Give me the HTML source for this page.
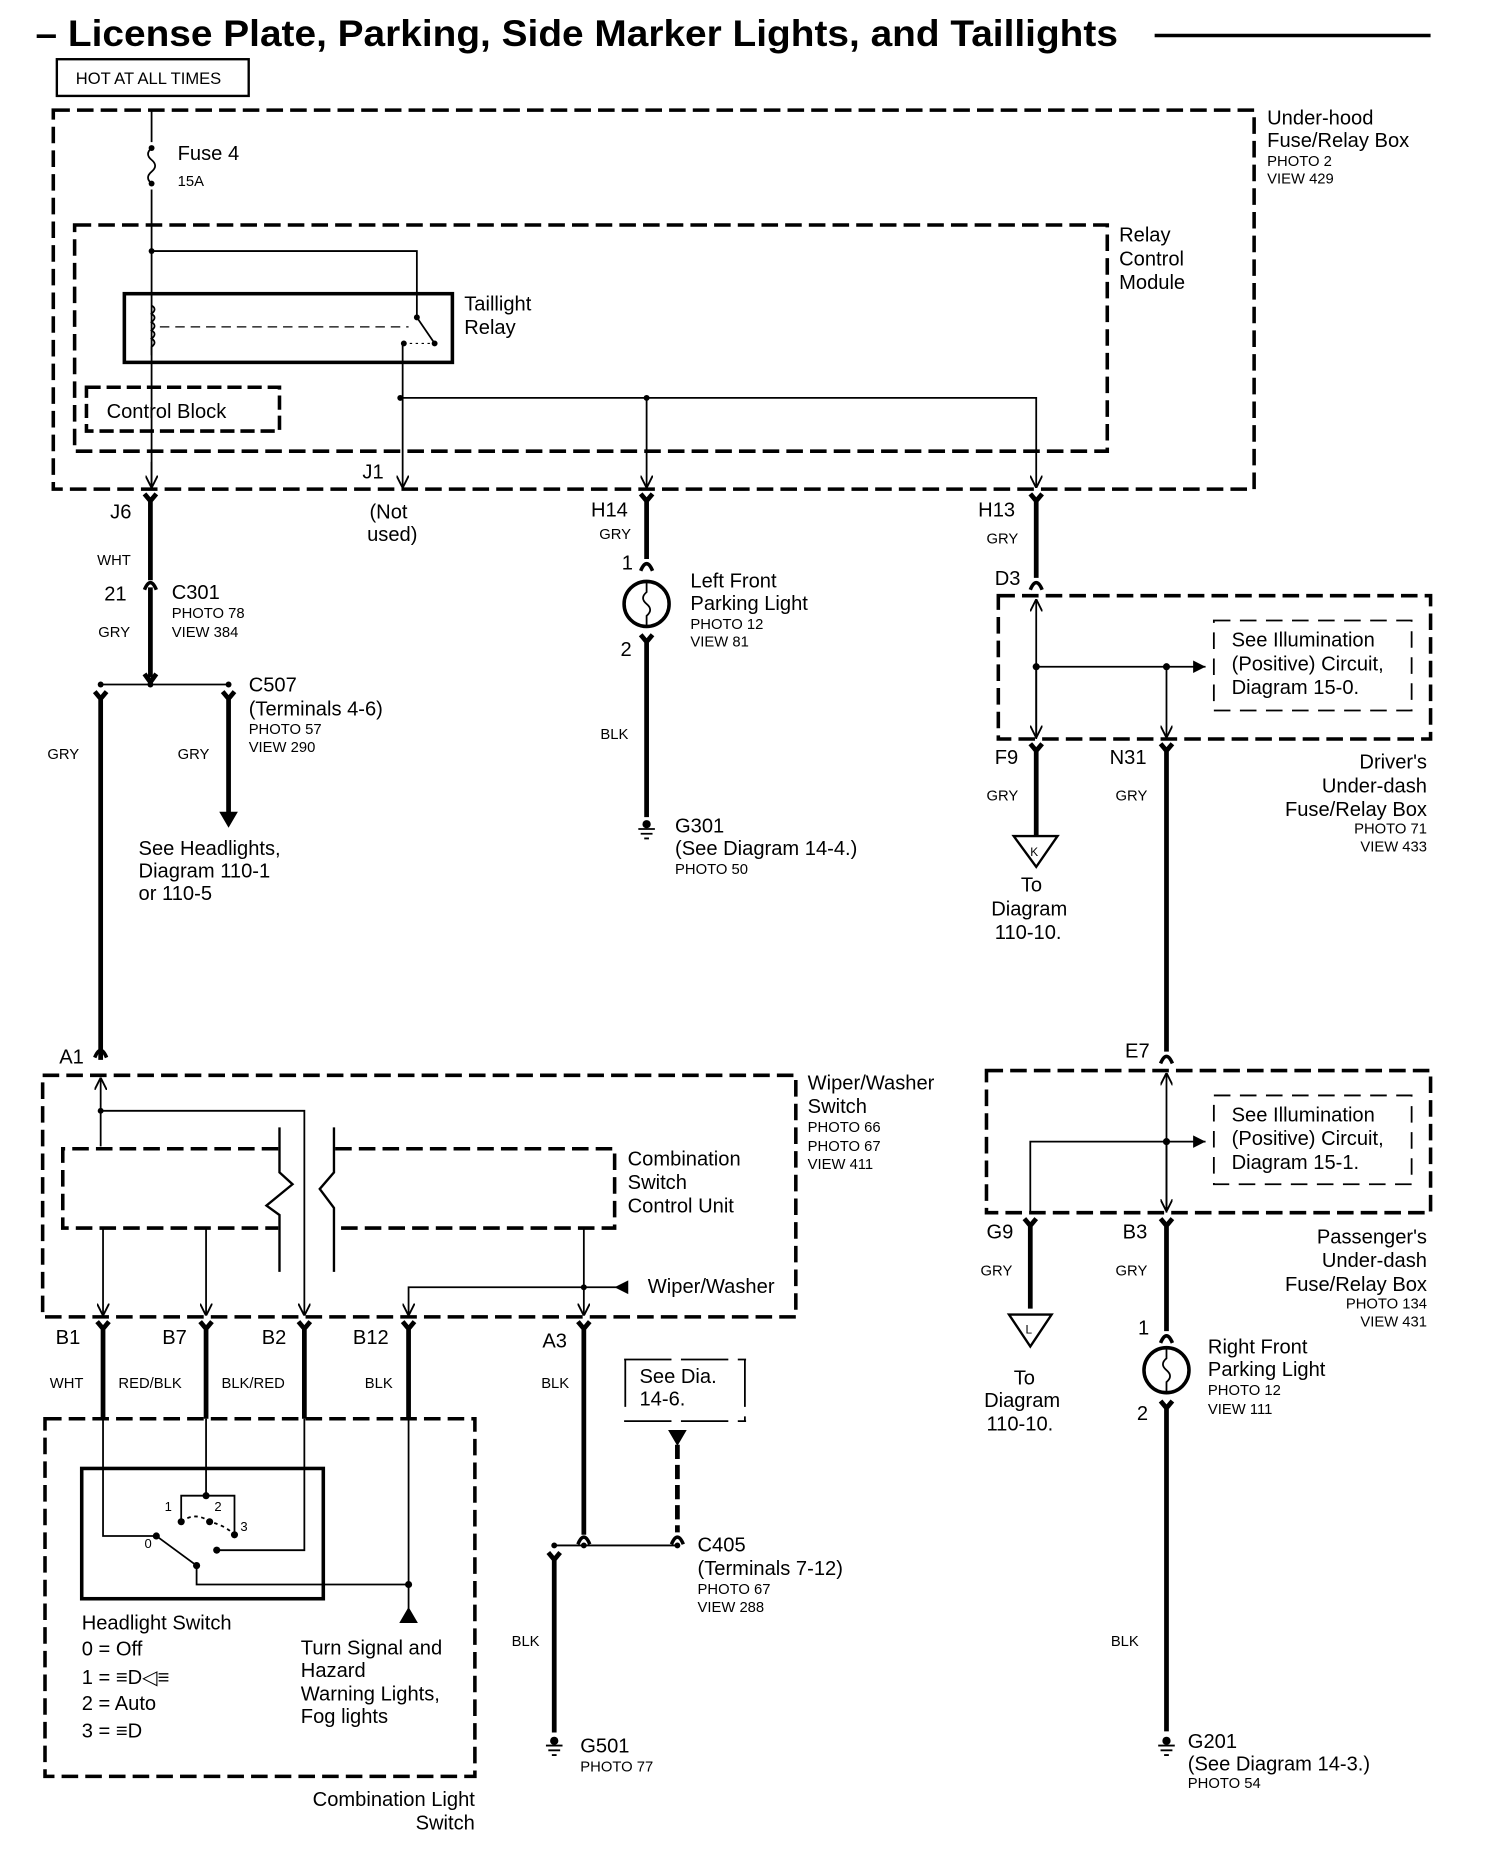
<!DOCTYPE html>
<html><head><meta charset="utf-8"><style>
html,body{margin:0;padding:0;background:#fff;}
svg{display:block;}
text{font-family:"Liberation Sans",Arial,sans-serif;fill:#000;}
.l{font-size:17px;}
.s{font-size:12.5px;}
.r{text-anchor:end;}
</style></head><body>
<svg width="1504" height="1864" viewBox="0 0 1270 1574" xmlns="http://www.w3.org/2000/svg">
<defs>
<marker id="ah" viewBox="0 0 10 10" refX="10" refY="5" markerWidth="7" markerHeight="7" orient="auto"><path d="M0,0 L10,5 L0,10" fill="none" stroke="#000" stroke-width="1.5"/></marker>
<marker id="af" viewBox="0 0 10 10" refX="10" refY="5" markerWidth="7" markerHeight="7" orient="auto"><path d="M0,0 L10,5 L0,10z" fill="#000"/></marker>
</defs>
<g stroke="#000" fill="none">
<!-- title -->
<line x1="975" y1="30" x2="1208" y2="30" stroke-width="3"/>
<rect x="48" y="50" width="162" height="31" stroke-width="2"/>
<!-- underhood box -->
<rect x="45" y="93" width="1014" height="320" stroke-width="3" stroke-dasharray="14,6"/>
<rect x="63" y="190" width="872" height="191" stroke-width="3" stroke-dasharray="14,6"/>
<rect x="73" y="327" width="163" height="37" stroke-width="3" stroke-dasharray="12,5"/>
<rect x="105" y="248" width="277" height="58" stroke-width="3"/>
<path d="M128,93 V120 M128,160 V413" stroke-width="1.5"/>
<path d="M128,125 q-6,5 0,10 q6,5 0,10 q-6,5 0,10" stroke-width="1.5"/>
<path d="M128,258 q5,3 0,7 q5,3 0,7 q5,3 0,7 q5,3 0,7 q5,3 0,7 V300" stroke-width="1.5"/>
<line x1="135" y1="276" x2="345" y2="276" stroke-width="1" stroke-dasharray="8,5"/>
<path d="M128,212 H352 V268 L367,290" stroke-width="1.5"/>
<path d="M341,290 L367,290" stroke-width="1" stroke-dasharray="2,3"/>
<path d="M340,290 V412" stroke-width="1.5" marker-end="url(#ah)"/>
<path d="M338,336 H875 V412" stroke-width="1.5" marker-end="url(#ah)"/>
<path d="M546,336 V412" stroke-width="1.5" marker-end="url(#ah)"/>
<path d="M128,390 V412" stroke-width="1.5" marker-end="url(#ah)"/>
<!-- J6 / C301 -->
<path d="M122,417 L127,423 L132,417 M127,423 V490" stroke-width="4"/>
<path d="M122,498 Q127,486 132,498" stroke-width="3"/>
<path d="M127,496 V572 M122,569 L127,576 L132,569" stroke-width="4"/>
<path d="M85,578 H193" stroke-width="1.5"/>
<path d="M80,584 L85,590 L90,584 M85,590 V895 M188,584 L193,590 L198,584 M193,590 V688" stroke-width="4"/>
<path d="M186,686 L200,686 L193,698z" fill="#000" stroke-width="1"/>
<!-- H14 -->
<path d="M541,417 L546,423 L551,417 M546,423 V472" stroke-width="4"/>
<path d="M541,482 Q546,470 551,482" stroke-width="3"/>
<circle cx="546" cy="510" r="19" stroke-width="3"/>
<path d="M546,491 V500 q-6,5 0,10 q6,5 0,10 V529" stroke-width="1.5"/>
<path d="M541,536 L546,542 L551,536 M546,542 V690" stroke-width="4"/>
<!-- H13 -->
<path d="M870,417 L875,423 L880,417 M875,423 V488" stroke-width="4"/>
<path d="M870,498 Q875,486 880,498" stroke-width="3"/>
<rect x="843" y="503" width="365" height="121" stroke-width="3" stroke-dasharray="14,6"/>
<rect x="1025" y="524" width="167" height="76" stroke-width="1.5" stroke-dasharray="14,8"/>
<path d="M875,624 V506" stroke-width="1.5" marker-end="url(#ah)"/>
<path d="M875,563 V623" stroke-width="1.5" marker-end="url(#ah)"/>
<path d="M875,563 H1018" stroke-width="1.5" marker-end="url(#af)"/>
<path d="M985,563 V623" stroke-width="1.5" marker-end="url(#ah)"/>
<path d="M870,628 L875,634 L880,628 M875,634 V706" stroke-width="4"/>
<path d="M980,628 L985,634 L990,628 M985,634 V888" stroke-width="4"/>
<path d="M856,706 L893,706 L875,732z" stroke-width="2"/>
<!-- E7 passenger -->
<path d="M980,898 Q985,886 990,898" stroke-width="3"/>
<rect x="833" y="904" width="375" height="120" stroke-width="3" stroke-dasharray="14,6"/>
<rect x="1025" y="925" width="167" height="75" stroke-width="1.5" stroke-dasharray="14,8"/>
<path d="M985,1024 V906" stroke-width="1.5" marker-end="url(#ah)"/>
<path d="M985,964 V1023" stroke-width="1.5" marker-end="url(#ah)"/>
<path d="M870,1023 V964 H1018" stroke-width="1.5" marker-end="url(#af)"/>
<path d="M865,1029 L870,1035 L875,1029 M870,1035 V1105" stroke-width="4"/>
<path d="M980,1029 L985,1035 L990,1029 M985,1035 V1124" stroke-width="4"/>
<path d="M852,1110 L888,1110 L870,1137z" stroke-width="2"/>
<path d="M980,1134 Q985,1122 990,1134" stroke-width="3"/>
<circle cx="985" cy="1157" r="19" stroke-width="3"/>
<path d="M985,1138 V1147 q-6,5 0,10 q6,5 0,10 V1176" stroke-width="1.5"/>
<path d="M980,1183 L985,1189 L990,1183 M985,1189 V1462" stroke-width="4"/>
<!-- wiper washer switch -->
<path d="M80,893 Q85,881 90,893" stroke-width="3"/>
<rect x="36" y="908" width="636" height="204" stroke-width="3" stroke-dasharray="14,6"/>
<path d="M85,968 V910" stroke-width="1.5" marker-end="url(#ah)"/>
<path d="M85,938 H257 V1111" stroke-width="1.5" marker-end="url(#ah)"/>
<path d="M235,970 H53 V1037 H235" stroke-width="3" stroke-dasharray="14,6"/>
<path d="M283,970 H519 V1037 H283" stroke-width="3" stroke-dasharray="14,6"/>
<path d="M236,952 V990 L247,1000 L225,1018 L236,1026 V1074" stroke-width="2"/>
<path d="M282,952 V990 L270,1004 L282,1020 V1074" stroke-width="2"/>
<path d="M87,1037 V1111" stroke-width="1.5" marker-end="url(#ah)"/>
<path d="M174,1037 V1111" stroke-width="1.5" marker-end="url(#ah)"/>
<path d="M493,1037 V1111" stroke-width="1.5" marker-end="url(#ah)"/>
<path d="M528,1087 H345 V1111" stroke-width="1.5" marker-end="url(#ah)"/>
<path d="M520,1087 L530,1082 L530,1092z" fill="#000" stroke-width="1"/>
<path d="M82,1116 L87,1122 L92,1116 M87,1122 V1198 M169,1116 L174,1122 L179,1116 M174,1122 V1198 M252,1116 L257,1122 L262,1116 M257,1122 V1198 M340,1116 L345,1122 L350,1116 M345,1122 V1198 M488,1116 L493,1122 L498,1116 M493,1122 V1296" stroke-width="4"/>
<!-- combination light switch -->
<rect x="38" y="1198" width="363" height="302" stroke-width="3" stroke-dasharray="14,6"/>
<rect x="69" y="1240" width="204" height="110" stroke-width="3"/>
<path d="M87,1198 V1297 H132" stroke-width="1.5"/>
<path d="M174,1198 V1263 M153,1285 V1263 H198 V1296" stroke-width="1.5"/>
<path d="M153,1285 Q165,1276 177,1285 Q190,1288 198,1296" stroke-width="1.5" stroke-dasharray="3,3"/>
<path d="M132,1297 L166,1322 V1338 H345" stroke-width="1.5"/>
<path d="M183,1309 H257 V1198" stroke-width="1.5"/>
<path d="M345,1198 V1360" stroke-width="1.5"/>
<path d="M338,1370 L352,1370 L345,1358z" fill="#000" stroke-width="1"/>
<!-- A3 / C405 -->
<path d="M488,1304 Q493,1292 498,1304" stroke-width="3"/>
<path d="M567,1304 Q572,1292 577,1304" stroke-width="3"/>
<path d="M468,1305 H572" stroke-width="1.5"/>
<path d="M463,1311 L468,1317 L473,1311 M468,1317 V1463" stroke-width="4"/>
<path d="M572,1220 V1294" stroke-width="4" stroke-dasharray="12,5"/>
<path d="M565,1208 L579,1208 L572,1220z" fill="#000" stroke-width="1"/>
<path d="M527,1148 H630 M527,1200 H630 M528,1148 V1196 M629,1148 V1200" stroke-width="1.5" stroke-dasharray="40,8"/>
<!-- grounds -->
<g stroke-width="1.5">
<path d="M539,700 H553 M541,704 H551 M544,708 H548"/>
<path d="M461,1474 H475 M463,1478 H473 M466,1482 H470"/>
<path d="M978,1474 H992 M980,1478 H990 M983,1482 H987"/>
</g>
</g>
<g fill="#000">
<circle cx="128" cy="125" r="2.5"/><circle cx="128" cy="155" r="2.5"/>
<circle cx="128" cy="212" r="2.5"/><circle cx="352" cy="268" r="2.5"/><circle cx="367" cy="290" r="2.5"/><circle cx="341" cy="290" r="2.5"/>
<circle cx="338" cy="336" r="2.5"/><circle cx="546" cy="336" r="2.5"/>
<circle cx="85" cy="578" r="2.5"/><circle cx="127" cy="578" r="2.5"/><circle cx="193" cy="578" r="2.5"/>
<circle cx="875" cy="563" r="3"/><circle cx="985" cy="563" r="3"/><circle cx="985" cy="964" r="3"/>
<circle cx="85" cy="938" r="2.5"/><circle cx="493" cy="1087" r="2.5"/>
<circle cx="174" cy="1263" r="3"/><circle cx="153" cy="1285" r="3"/><circle cx="177" cy="1285" r="3"/><circle cx="198" cy="1296" r="3"/><circle cx="132" cy="1297" r="3"/><circle cx="183" cy="1309" r="3"/><circle cx="166" cy="1322" r="3"/><circle cx="345" cy="1338" r="3"/>
<circle cx="468" cy="1305" r="2.5"/><circle cx="493" cy="1305" r="2.5"/><circle cx="572" cy="1305" r="2.5"/>
<circle cx="546" cy="696" r="3.5"/><circle cx="468" cy="1470" r="3.5"/><circle cx="985" cy="1470" r="3.5"/>
</g>
<!-- text -->
<text x="30" y="39" font-size="31" font-weight="bold" textLength="914" lengthAdjust="spacingAndGlyphs">– License Plate, Parking, Side Marker Lights, and Taillights</text>
<text x="64" y="71" font-size="14">HOT AT ALL TIMES</text>
<text class="l" x="1070" y="105">Under-hood</text><text class="l" x="1070" y="124">Fuse/Relay Box</text>
<text class="s" x="1070" y="140">PHOTO 2</text><text class="s" x="1070" y="155">VIEW 429</text>
<text class="l" x="945" y="204">Relay</text><text class="l" x="945" y="224">Control</text><text class="l" x="945" y="244">Module</text>
<text class="l" x="150" y="135">Fuse 4</text><text class="s" x="150" y="157">15A</text>
<text class="l" x="392" y="262">Taillight</text><text class="l" x="392" y="282">Relay</text>
<text class="l" x="90" y="353">Control Block</text>
<text class="l" x="306" y="404">J1</text>
<text class="l" x="93" y="438">J6</text>
<text class="l" x="312" y="438">(Not</text><text class="l" x="310" y="457">used)</text>
<text class="s" x="82" y="477">WHT</text>
<text class="l" x="88" y="507">21</text><text class="l" x="145" y="506">C301</text>
<text class="s" x="145" y="522">PHOTO 78</text><text class="s" x="145" y="538">VIEW 384</text>
<text class="s" x="83" y="538">GRY</text>
<text class="l" x="210" y="584">C507</text><text class="l" x="210" y="604">(Terminals 4-6)</text>
<text class="s" x="210" y="620">PHOTO 57</text><text class="s" x="210" y="635">VIEW 290</text>
<text class="s" x="40" y="641">GRY</text><text class="s" x="150" y="641">GRY</text>
<text class="l" x="117" y="722">See Headlights,</text><text class="l" x="117" y="741">Diagram 110-1</text><text class="l" x="117" y="760">or 110-5</text>
<text class="l" x="499" y="436">H14</text><text class="s" x="506" y="455">GRY</text>
<text class="l" x="525" y="481">1</text><text class="l" x="524" y="554">2</text>
<text class="l" x="583" y="496">Left Front</text><text class="l" x="583" y="515">Parking Light</text>
<text class="s" x="583" y="531">PHOTO 12</text><text class="s" x="583" y="546">VIEW 81</text>
<text class="s" x="507" y="624">BLK</text>
<text class="l" x="570" y="703">G301</text><text class="l" x="570" y="722">(See Diagram 14-4.)</text><text class="s" x="570" y="738">PHOTO 50</text>
<text class="l" x="826" y="436">H13</text><text class="s" x="833" y="459">GRY</text>
<text class="l" x="840" y="494">D3</text>
<text class="l" x="1040" y="546">See  Illumination</text><text class="l" x="1040" y="566">(Positive) Circuit,</text><text class="l" x="1040" y="586">Diagram 15-0.</text>
<text class="l" x="840" y="645">F9</text><text class="l" x="937" y="645">N31</text>
<text class="s" x="833" y="676">GRY</text><text class="s" x="942" y="676">GRY</text>
<text x="870" y="723" font-size="10">K</text>
<text class="l" x="862" y="753">To</text><text class="l" x="837" y="773">Diagram</text><text class="l" x="840" y="793">110-10.</text>
<text class="l r" x="1205" y="649">Driver's</text><text class="l r" x="1205" y="669">Under-dash</text><text class="l r" x="1205" y="689">Fuse/Relay Box</text>
<text class="s r" x="1205" y="704">PHOTO 71</text><text class="s r" x="1205" y="719">VIEW 433</text>
<text class="l" x="950" y="893">E7</text>
<text class="l" x="1040" y="947">See  Illumination</text><text class="l" x="1040" y="967">(Positive) Circuit,</text><text class="l" x="1040" y="987">Diagram 15-1.</text>
<text class="l" x="833" y="1046">G9</text><text class="l" x="948" y="1046">B3</text>
<text class="s" x="828" y="1077">GRY</text><text class="s" x="942" y="1077">GRY</text>
<text x="866" y="1126" font-size="10">L</text>
<text class="l" x="856" y="1169">To</text><text class="l" x="831" y="1188">Diagram</text><text class="l" x="833" y="1208">110-10.</text>
<text class="l r" x="1205" y="1050">Passenger's</text><text class="l r" x="1205" y="1070">Under-dash</text><text class="l r" x="1205" y="1090">Fuse/Relay Box</text>
<text class="s r" x="1205" y="1105">PHOTO 134</text><text class="s r" x="1205" y="1120">VIEW 431</text>
<text class="l" x="961" y="1127">1</text><text class="l" x="960" y="1199">2</text>
<text class="l" x="1020" y="1143">Right Front</text><text class="l" x="1020" y="1162">Parking Light</text>
<text class="s" x="1020" y="1178">PHOTO 12</text><text class="s" x="1020" y="1194">VIEW 111</text>
<text class="s" x="938" y="1390">BLK</text>
<text class="l" x="1003" y="1476">G201</text><text class="l" x="1003" y="1495">(See Diagram 14-3.)</text><text class="s" x="1003" y="1510">PHOTO 54</text>
<text class="l" x="50" y="898">A1</text>
<text class="l" x="682" y="920">Wiper/Washer</text><text class="l" x="682" y="940">Switch</text>
<text class="s" x="682" y="956">PHOTO 66</text><text class="s" x="682" y="972">PHOTO 67</text><text class="s" x="682" y="987">VIEW 411</text>
<text class="l" x="530" y="984">Combination</text><text class="l" x="530" y="1004">Switch</text><text class="l" x="530" y="1024">Control Unit</text>
<text class="l" x="547" y="1092">Wiper/Washer</text>
<text class="l" x="47" y="1135">B1</text><text class="l" x="137" y="1135">B7</text><text class="l" x="221" y="1135">B2</text><text class="l" x="298" y="1135">B12</text><text class="l" x="458" y="1138">A3</text>
<text class="s" x="42" y="1172">WHT</text><text class="s" x="100" y="1172">RED/BLK</text><text class="s" x="187" y="1172">BLK/RED</text><text class="s" x="308" y="1172">BLK</text><text class="s" x="457" y="1172">BLK</text>
<text class="l" x="540" y="1168">See Dia.</text><text class="l" x="540" y="1187">14-6.</text>
<text x="139" y="1276" font-size="11">1</text><text x="181" y="1276" font-size="11">2</text><text x="203" y="1293" font-size="11">3</text><text x="122" y="1307" font-size="11">0</text>
<text class="l" x="69" y="1376">Headlight Switch</text>
<text class="l" x="69" y="1398">0 = Off</text>
<text class="l" x="69" y="1422">1 = ≡D◁≡</text>
<text class="l" x="69" y="1444">2 = Auto</text>
<text class="l" x="69" y="1467">3 = ≡D</text>
<text class="l" x="254" y="1397">Turn Signal and</text><text class="l" x="254" y="1416">Hazard</text><text class="l" x="254" y="1436">Warning Lights,</text><text class="l" x="254" y="1455">Fog lights</text>
<text class="l r" x="401" y="1525">Combination Light</text><text class="l r" x="401" y="1545">Switch</text>
<text class="l" x="589" y="1310">C405</text><text class="l" x="589" y="1330">(Terminals 7-12)</text>
<text class="s" x="589" y="1346">PHOTO 67</text><text class="s" x="589" y="1361">VIEW 288</text>
<text class="s" x="432" y="1390">BLK</text>
<text class="l" x="490" y="1480">G501</text><text class="s" x="490" y="1496">PHOTO 77</text>
</svg>
</body></html>
